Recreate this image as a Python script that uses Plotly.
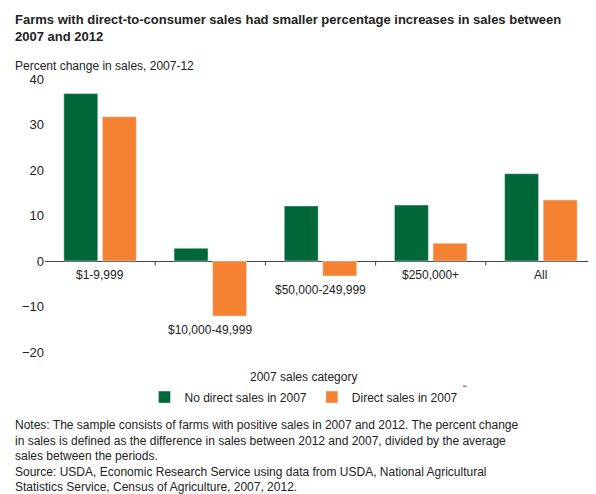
import plotly.graph_objects as go

categories = ["$1-9,999", "$10,000-49,999", "$50,000-249,999", "$250,000+", "All"]
no_direct = [36.8, 2.8, 12.1, 12.3, 19.2]
direct = [31.7, -12.1, -3.3, 3.9, 13.4]
yticks = [-20, -10, 0, 10, 20, 30, 40]

GREEN = "#006838"
ORANGE = "#f58232"
F = "Arial, Liberation Sans, sans-serif"

fig = go.Figure()
fig.add_bar(x=categories, y=no_direct, name="No direct sales in 2007", marker_color=GREEN)
fig.add_bar(x=categories, y=direct, name="Direct sales in 2007", marker_color=ORANGE)

for i, c in enumerate(categories):
    low = min(0, no_direct[i], direct[i])
    fig.add_annotation(x=c, y=low, yref="y", text=c, showarrow=False, yanchor="top",
                       yshift=-5, font=dict(size=12, color="#222"))
for k in range(len(categories) - 1):
    fig.add_shape(type="line", xref="x", yref="y", x0=k + 0.5, x1=k + 0.5, y0=0, y1=-1,
                  line=dict(color="#444", width=1))

fig.update_layout(
    width=596, height=494, barmode="group", bargap=0.3, bargroupgap=0.12,
    margin=dict(l=37, r=8, t=71, b=150),
    plot_bgcolor="white", paper_bgcolor="white",
    font=dict(family=F, size=12, color="#222"),
    showlegend=True,
    legend=dict(orientation="h", x=0.47, xanchor="center", y=-0.165, yanchor="middle",
                font=dict(size=12), traceorder="normal"),
    xaxis=dict(showticklabels=False, showline=False, ticks=""),
    yaxis=dict(range=[-20, 40], tickvals=yticks, showgrid=False, zeroline=True,
               zerolinecolor="#444", zerolinewidth=1, ticks="", tickfont=dict(size=13)),
)
fig.add_annotation(xref="paper", yref="paper", x=-0.058, y=1.253, xanchor="left", yanchor="top",
                   text="<b>Farms with direct-to-consumer sales had smaller percentage increases in sales between<br>2007 and 2012</b>",
                   showarrow=False, align="left", font=dict(size=13))
fig.add_annotation(xref="paper", yref="paper", x=-0.058, y=1.048, xanchor="left", yanchor="middle",
                   text="Percent change in sales, 2007-12", showarrow=False, font=dict(size=12))
fig.add_annotation(xref="paper", yref="paper", x=0.47, y=-0.092, xanchor="center", yanchor="middle",
                   text="2007 sales category", showarrow=False, font=dict(size=12))
fig.add_shape(type="line", xref="paper", yref="paper", x0=0.18, x1=0.765, y0=-0.125, y1=-0.125,
              line=dict(color="#444", width=1))
fig.add_annotation(xref="paper", yref="paper", x=-0.058, y=-0.235, xanchor="left", yanchor="top", align="left",
                   text="Notes: The sample consists of farms with positive sales in 2007 and 2012. The percent change<br>"
                        "in sales is defined as the difference in sales between 2012 and 2007, divided by the average<br>"
                        "sales between the periods.<br>"
                        "Source: USDA, Economic Research Service using data from USDA, National Agricultural<br>"
                        "Statistics Service, Census of Agriculture, 2007, 2012.",
                   showarrow=False, font=dict(size=12))
fig.write_html("out.html")
